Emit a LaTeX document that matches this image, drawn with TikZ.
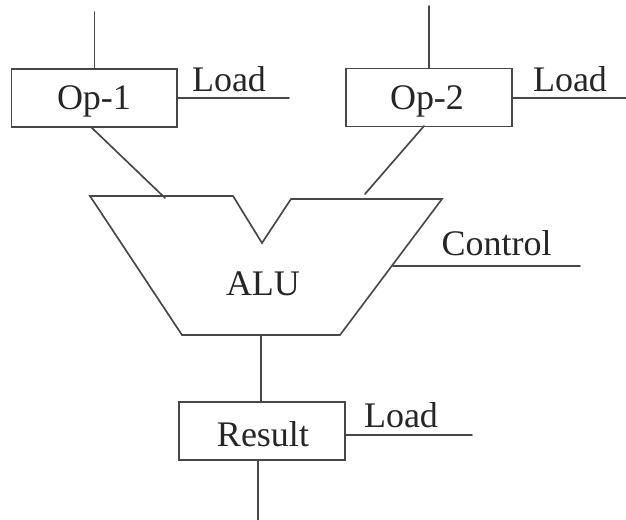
\documentclass[tikz,border=0pt]{standalone}
\usepackage{fontspec}
\setmainfont{Liberation Serif}
\begin{document}
\begin{tikzpicture}[x=0.75pt,y=-0.75pt,
  wire/.style={draw=black!72,line width=1.25pt,line cap=round,line join=miter},
  regbox/.style={draw=black!72,line width=1.25pt,rectangle,inner sep=0pt,minimum height=43.5pt},
  lbl/.style={font=\fontsize{27}{29}\selectfont,inner sep=0pt,anchor=base,text=black!85}]
\useasboundingbox (0,0) rectangle (626,520);
\fill[white] (0,0) rectangle (626,520);
\node[regbox,minimum width=124pt] (op1) at (94,98) {};
\node[regbox,minimum width=124.5pt] (op2) at (429,97.5) {};
\node[regbox,minimum width=124.5pt] (res) at (262.25,431) {};
\node[lbl] (t1) at (94,110) {Op-1};
\node[lbl] (t2) at (427,110) {Op-2};
\node[lbl] (t3) at (263,447) {Result};
\node[lbl] (l1) at (229,92) {Load};
\node[lbl] (l2) at (570,92) {Load};
\node[lbl] (l3) at (401,428) {Load};
\node[lbl] (c) at (496.5,256) {Control};
\node[lbl] (a) at (263,296) {ALU};
\coordinate (a1) at (90,196);
\coordinate (a2) at (233,196);
\coordinate (a3) at (262,243);
\coordinate (a4) at (291,199);
\coordinate (a5) at (442,199);
\coordinate (a6) at (340,335);
\coordinate (a7) at (182,335);
\draw[wire] (a1)--(a2)--(a3)--(a4)--(a5)--(a6)--(a7)--cycle;
\coordinate (i1) at (94.5,12); \coordinate (i2) at (429,6);
\coordinate (o1) at (289,98); \coordinate (o2) at (626,98); \coordinate (o3) at (472,435);
\coordinate (o4) at (580,266); \coordinate (o5) at (258,520);
\coordinate (s1) at (91,127); \coordinate (b1) at (165,198);
\coordinate (s2) at (424,126); \coordinate (b2) at (365,194);
\coordinate (c1) at (393,266); \coordinate (d1) at (261,335);
\draw[wire] (i1)--(i1|-op1.north);
\draw[wire] (i2)--(i2|-op2.north);
\draw[wire] (op1.east|-o1)--(o1);
\draw[wire] (op2.east|-o2)--(o2);
\draw[wire] (res.east|-o3)--(o3);
\draw[wire] (s1)--(b1);
\draw[wire] (s2)--(b2);
\draw[wire] (c1)--(o4);
\draw[wire] (d1)--(d1|-res.north);
\draw[wire] (o5|-res.south)--(o5);
\end{tikzpicture}
\end{document}
